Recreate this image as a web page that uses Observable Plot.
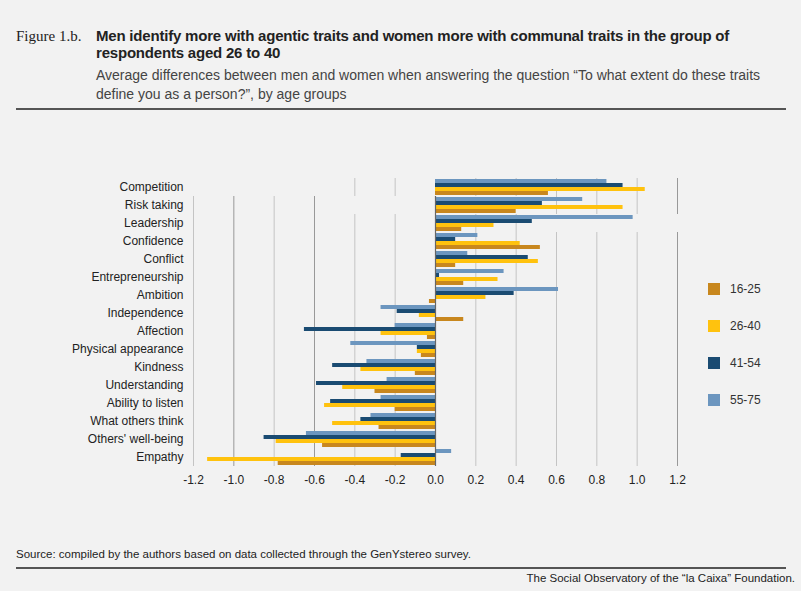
<!DOCTYPE html>
<html><head><meta charset="utf-8">
<script src="https://cdn.jsdelivr.net/npm/d3@7"></script>
<script src="https://cdn.jsdelivr.net/npm/@observablehq/plot@0.6"></script>
<style>
body{margin:0;background:#f2f2f2;font-family:"Liberation Sans",Arial,sans-serif;width:801px;height:591px;position:relative;overflow:hidden}
.abs{position:absolute}
</style></head><body>
<div class="abs" style="left:16px;top:28px;font-family:'Liberation Serif',serif;font-size:15px;color:#222">Figure 1.b.</div>
<div class="abs" style="left:96px;top:27px;width:680px;font-weight:bold;font-size:15px;line-height:17px;color:#222;letter-spacing:-0.2px">Men identify more with agentic traits and women more with communal traits in the group of respondents aged 26 to 40</div>
<div class="abs" style="left:96px;top:66px;width:690px;font-size:14px;line-height:19px;color:#444">Average differences between men and women when answering the question “To what extent do these traits define you as a person?”, by age groups</div>
<div class="abs" style="left:16px;top:108px;width:770px;border-top:2px solid #555"></div>
<div id="chart" class="abs" style="left:0;top:160px"></div>
<div id="legend" class="abs" style="left:708px;top:270px;font-size:12px;color:#333"></div>
<div class="abs" style="left:16px;top:548px;font-size:11.5px;color:#222">Source: compiled by the authors based on data collected through the GenYstereo survey.</div>
<div class="abs" style="left:16px;top:567px;width:770px;border-top:2px solid #555"></div>
<div class="abs" style="right:6px;top:572px;font-size:11.5px;color:#222">The Social Observatory of the “la Caixa” Foundation.</div>
<script>
const traits=["Competition","Risk taking","Leadership","Confidence","Conflict","Entrepreneurship","Ambition","Independence","Affection","Physical appearance","Kindness","Understanding","Ability to listen","What others think","Others' well-being","Empathy"];
const ages=["55-75","41-54","26-40","16-25"];
const colors=["#6c96bf","#1a4b72","#ffc20e","#c8871e"];
const v5575=[0.85,0.73,0.98,0.21,0.16,0.34,0.61,-0.27,-0.20,-0.42,-0.34,-0.24,-0.27,-0.32,-0.64,0.08];
const v4154=[0.93,0.53,0.48,0.10,0.46,0.02,0.39,-0.19,-0.65,-0.09,-0.51,-0.59,-0.52,-0.37,-0.85,-0.17];
const v2640=[1.04,0.93,0.29,0.42,0.51,0.31,0.25,-0.08,-0.27,-0.09,-0.37,-0.46,-0.55,-0.51,-0.79,-1.13];
const v1625=[0.56,0.40,0.13,0.52,0.10,0.14,-0.03,0.14,-0.04,-0.07,-0.10,-0.30,-0.20,-0.28,-0.56,-0.78];
const xTicks=[-1.2,-1.0,-0.8,-0.6,-0.4,-0.2,0,0.2,0.4,0.6,0.8,1.0,1.2];
const series=[v5575,v4154,v2640,v1625];
const data=[];
traits.forEach((t,i)=>ages.forEach((a,j)=>data.push({trait:t,age:a,value:series[j][i]})));
const chart=Plot.plot({
  width:801,height:340,marginLeft:193,marginRight:124,marginTop:13,marginBottom:30,
  style:{background:"transparent",fontFamily:"Liberation Sans, Arial, sans-serif",fontSize:"12px",color:"#222"},
  x:{domain:[-1.2,1.2],ticks:xTicks,tickFormat:d=>d.toFixed(1),tickSize:0,label:null},
  y:{domain:ages,axis:null,paddingInner:0.12,paddingOuter:0.15},
  fy:{domain:traits,padding:0,label:null,tickSize:0,axis:"left",tickPadding:10},
  color:{domain:ages,range:colors},
  facet:{data,y:"trait"},
  marks:[
    Plot.ruleX(xTicks.filter(d=>d!==0),{stroke:d=>[-1.0,-0.6,1.2].includes(d)?"#999":"#c4c4c4",strokeWidth:1,facet:"exclude"}),
    Plot.barX(data,{x:"value",y:"age",fy:"trait",fill:"age"}),
    Plot.ruleX([0],{stroke:"#666",strokeWidth:1.2,facet:"exclude"})
  ]
});
document.getElementById("chart").appendChild(chart);
const lg=document.getElementById("legend");
[["16-25","#c8871e"],["26-40","#ffc20e"],["41-54","#1a4b72"],["55-75","#6c96bf"]].forEach(([l,c])=>{
  const d=document.createElement("div");
  d.style.cssText="display:flex;align-items:center;height:37px";
  d.innerHTML=`<span style="display:inline-block;width:12px;height:12px;background:${c};margin-right:10px"></span>${l}`;
  lg.appendChild(d);
});
</script></body></html>
